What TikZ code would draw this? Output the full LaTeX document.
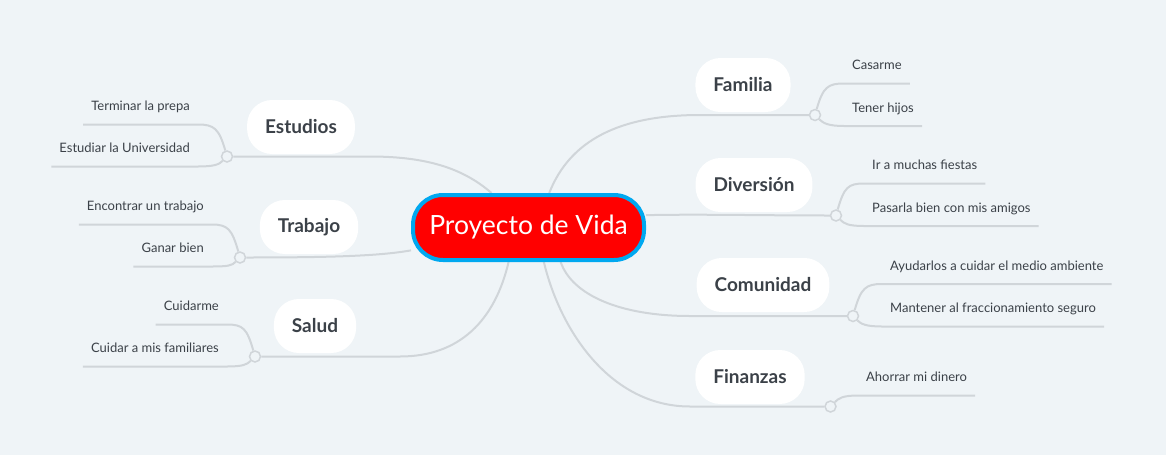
\documentclass[tikz,border=0pt]{standalone}
\usepackage{fontspec}
\setmainfont{Lato}
\usetikzlibrary{backgrounds}
\definecolor{bgcol}{HTML}{EFF4F7}
\definecolor{linecol}{HTML}{D0D5D9}
\definecolor{txtcol}{HTML}{3B4148}
\definecolor{rootblue}{HTML}{00A8F0}
\begin{document}
\begin{tikzpicture}[x=1pt,y=-1pt,
	root/.style={draw=rootblue, line width=4pt, fill=red, rounded corners=30pt, minimum width=231pt, minimum height=65pt, text=white, font=\fontsize{26.5}{30}\selectfont},
	topic/.style={fill=white, rounded corners=25pt, minimum height=54pt, inner xsep=18pt, text=txtcol, font=\fontsize{19}{22}\selectfont\bfseries},
	knot/.style={circle, draw=linecol, fill=bgcol, line width=1.5pt, minimum size=11pt, inner sep=0pt},
	leafr/.style={anchor=south west, inner xsep=8pt, inner ysep=10.5pt, text height=10pt, text depth=3pt, text=txtcol, font=\fontsize{13}{15}\selectfont},
	leafl/.style={leafr, anchor=south east},
	branch/.style={draw=linecol, line width=2pt}]
	\useasboundingbox (0,0) rectangle (1166,455);

	\node [root] (root) at (528.5,227.5) {Proyecto de Vida};

	% topics, right side
	\node [topic] (familia) at (743,85) {Familia};
	\node [topic] (diversion) at (754,185) {Diversión};
	\node [topic] (comunidad) at (763,285) {Comunidad};
	\node [topic] (finanzas) at (750,377) {Finanzas};
	% topics, left side
	\node [topic] (estudios) at (301,127) {Estudios};
	\node [topic] (trabajo) at (309,227) {Trabajo};
	\node [topic] (salud) at (315,326) {Salud};

	\node [knot] (dFam) at (815,115) {};
	\node [knot] (dDiv) at (836,215.5) {};
	\node [knot] (dCom) at (853,316) {};
	\node [knot] (dFin) at (830.5,406.5) {};
	\node [knot] (dEst) at (227,156.5) {};
	\node [knot] (dTra) at (240,257.5) {};
	\node [knot] (dSal) at (255,356.5) {};

	% leaves
	\node [leafr] (casarme) at (844,83.5) {Casarme};
	\node [leafr] (hijos) at (844,126) {Tener hijos};
	\node [leafr] (fiestas) at (864,183.5) {Ir a muchas fiestas};
	\node [leafr] (amigos) at (864,226) {Pasarla bien con mis amigos};
	\node [leafr] (ambiente) at (882,284) {Ayudarlos a cuidar el medio ambiente};
	\node [leafr] (seguro) at (882,326.5) {Mantener al fraccionamiento seguro};
	\node [leafr] (dinero) at (858,395.5) {Ahorrar mi dinero};
	\node [leafl] (prepa) at (198,124.5) {Terminar la prepa};
	\node [leafl] (uni) at (198,166.5) {Estudiar la Universidad};
	\node [leafl] (encontrar) at (212,224.5) {Encontrar un trabajo};
	\node [leafl] (ganar) at (212,266.5) {Ganar bien};
	\node [leafl] (cuidarme) at (227,324.5) {Cuidarme};
	\node [leafl] (familiares) at (227,366.5) {Cuidar a mis familiares};

	\begin{scope}[on background layer]
		\fill [bgcol] (0,0) rectangle (1166,455);
		% root to knots
		\draw [branch] (root.59) .. controls (570,140) and (620,115) .. (700,115) -- (dFam);
		\draw [branch] (root.6) .. controls (700,214) and (760,215.5) .. (dDiv);
		\draw [branch] (root.-47) .. controls (572,295) and (620,316) .. (690,316) -- (dCom);
		\draw [branch] (root.-66) .. controls (560,330) and (610,406.5) .. (690,406.5) -- (dFin);
		\draw [branch] (root.137) .. controls (465,170) and (430,156.5) .. (370,156.5) -- (dEst);
		\draw [branch] (root.-169) .. controls (380,256) and (330,257.5) .. (dTra);
		\draw [branch] (root.-120) .. controls (495,320) and (460,356.5) .. (400,356.5) -- (dSal);
		% knots to leaves
		\draw [branch] (dFam) .. controls +(8,-28) and +(-16,0) .. (casarme.south west) -- (casarme.south east);
		\draw [branch] (dFam) .. controls +(8,8) and +(-16,0) .. (hijos.south west) -- (hijos.south east);
		\draw [branch] (dDiv) .. controls +(8,-28) and +(-16,0) .. (fiestas.south west) -- (fiestas.south east);
		\draw [branch] (dDiv) .. controls +(8,8) and +(-16,0) .. (amigos.south west) -- (amigos.south east);
		\draw [branch] (dCom) .. controls +(8,-28) and +(-16,0) .. (ambiente.south west) -- (ambiente.south east);
		\draw [branch] (dCom) .. controls +(8,8) and +(-16,0) .. (seguro.south west) -- (seguro.south east);
		\draw [branch] (dFin) .. controls +(8,-8) and +(-16,0) .. (dinero.south west) -- (dinero.south east);
		\draw [branch] (dEst) .. controls +(-8,-28) and +(16,0) .. (prepa.south east) -- (prepa.south west);
		\draw [branch] (dEst) .. controls +(-8,8) and +(16,0) .. (uni.south east) -- (uni.south west);
		\draw [branch] (dTra) .. controls +(-8,-28) and +(16,0) .. (encontrar.south east) -- (encontrar.south west);
		\draw [branch] (dTra) .. controls +(-8,8) and +(16,0) .. (ganar.south east) -- (ganar.south west);
		\draw [branch] (dSal) .. controls +(-8,-28) and +(16,0) .. (cuidarme.south east) -- (cuidarme.south west);
		\draw [branch] (dSal) .. controls +(-8,8) and +(16,0) .. (familiares.south east) -- (familiares.south west);
	\end{scope}
\end{tikzpicture}
\end{document}
